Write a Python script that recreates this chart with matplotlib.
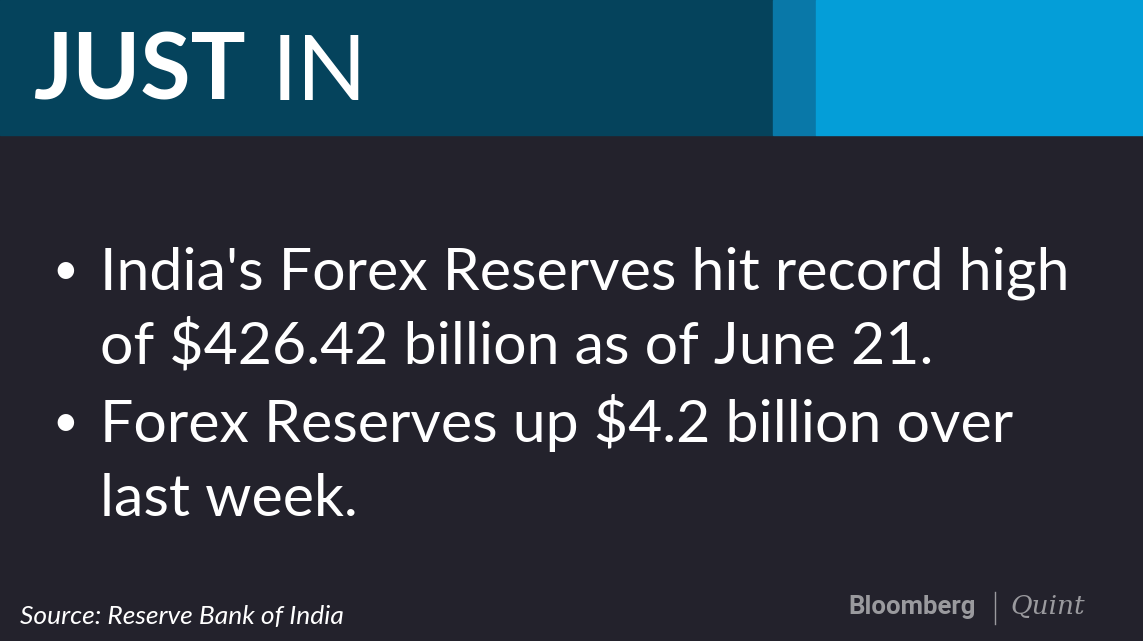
import matplotlib
matplotlib.use("Agg")
import matplotlib.pyplot as plt
from matplotlib.patches import Rectangle

header_bold = "JUST"
header_light = "IN"
bullets = [["India's Forex Reserves hit record high", "of $426.42 billion as of June 21."],
           ["Forex Reserves up $4.2 billion over", "last week."]]
source = "Source: Reserve Bank of India"

fig = plt.figure(figsize=(11.43, 6.41), dpi=100)
ax = fig.add_axes([0, 0, 1, 1])
ax.set_xlim(0, 1143); ax.set_ylim(641, 0); ax.axis("off")
fig.patch.set_facecolor("#23222c")
ax.add_patch(Rectangle((0, 0), 773, 135, color="#05435c"))
ax.add_patch(Rectangle((773, 0), 43, 135, color="#0978a8"))
ax.add_patch(Rectangle((816, 0), 327, 135, color="#049ed8"))

ax.text(33, 100, header_bold, fontsize=66, fontweight="bold", family="Lato", color="white", va="baseline")
ax.text(272, 100, header_light, fontsize=66, fontweight="normal", family="Lato", color="white", va="baseline")

y = 290
for b in bullets:
    ax.text(52, y - 6, "•", fontsize=32, family="Lato", color="white", va="baseline")
    for line in b:
        ax.text(100, y, line, fontsize=42.5, family="Lato", color="white", va="baseline")
        y += 74
    y += 4

ax.text(20, 624, source, fontsize=19, family="Lato", style="italic", color="white", va="baseline")
ax.text(848, 614, "Bloomberg", fontsize=18.5, fontweight="bold", family="Roboto", color="#9a9a9e", va="baseline")
ax.plot([995, 995], [592, 624], color="#9a9a9e", lw=1)
ax.text(1010, 614, "Quint", fontsize=19, style="italic", family="DejaVu Serif", color="#9a9a9e", va="baseline")

fig.savefig("out.png", dpi=100, facecolor=fig.get_facecolor())
